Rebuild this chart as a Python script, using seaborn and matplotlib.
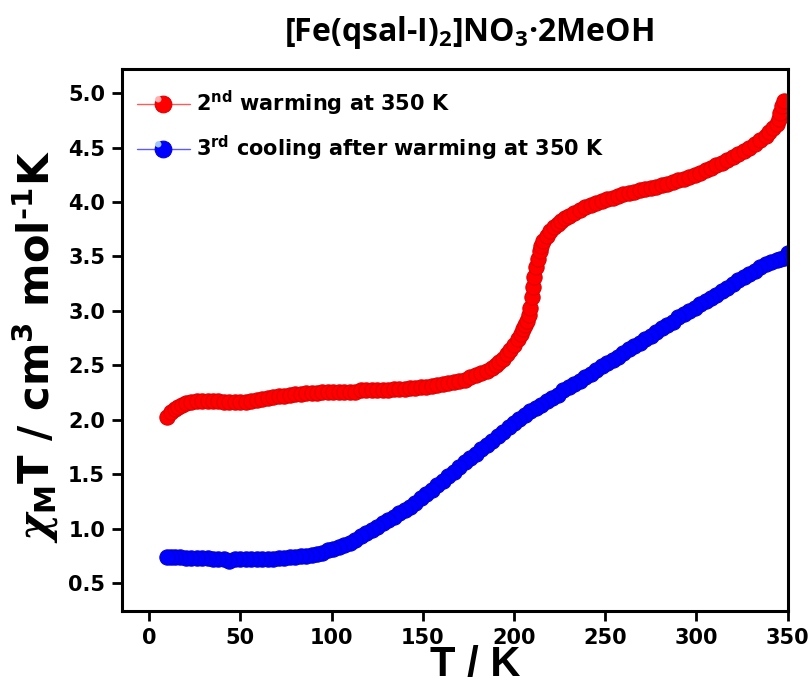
import matplotlib
matplotlib.use("Agg")
import matplotlib.pyplot as plt
from matplotlib.lines import Line2D
from matplotlib.legend_handler import HandlerTuple
from matplotlib.path import Path
import numpy as np
import seaborn as sns
import pandas as pd

# 2nd warming run (K, cm3 mol-1 K)
warm_T = [10, 12, 14, 16, 18, 20, 23, 26, 29, 32, 35, 38, 41, 44, 47, 50, 53, 56, 59, 62,
          65, 68, 71, 74, 77, 80, 83, 86, 89, 92, 95, 98, 101, 104, 107, 110, 113, 116, 119, 122,
          125, 128, 131, 134, 137, 140, 143, 146, 149, 152, 155, 158, 161, 164, 167, 170, 173, 176, 179, 182,
          185, 188, 190, 192, 194, 196, 198, 200, 202, 204, 205, 206, 207, 208, 209, 210, 210.5, 211, 212, 213,
          214, 215, 216, 218, 220, 222, 224, 226, 228, 230, 233, 236, 239, 242, 245, 248, 251, 254, 257, 260,
          263, 266, 269, 272, 275, 278, 281, 284, 287, 290, 293, 296, 299, 302, 305, 308, 311, 314, 317, 320,
          323, 326, 329, 332, 335, 338, 340, 342, 344, 345, 346, 347, 348]
warm_chiT = [2.03, 2.07, 2.10, 2.12, 2.14, 2.15, 2.16, 2.17, 2.17, 2.17, 2.17, 2.17, 2.16, 2.16, 2.16, 2.16, 2.16, 2.17, 2.18, 2.19,
             2.20, 2.21, 2.22, 2.22, 2.23, 2.24, 2.24, 2.25, 2.25, 2.25, 2.26, 2.26, 2.26, 2.26, 2.26, 2.26, 2.26, 2.27, 2.27, 2.27,
             2.27, 2.27, 2.27, 2.28, 2.28, 2.28, 2.29, 2.29, 2.30, 2.30, 2.31, 2.32, 2.33, 2.34, 2.35, 2.36, 2.37, 2.39, 2.41, 2.43,
             2.45, 2.48, 2.50, 2.53, 2.56, 2.60, 2.64, 2.69, 2.74, 2.79, 2.83, 2.87, 2.91, 2.96, 3.03, 3.13, 3.22, 3.31, 3.40, 3.48,
             3.55, 3.60, 3.64, 3.69, 3.73, 3.77, 3.80, 3.83, 3.85, 3.87, 3.90, 3.93, 3.95, 3.97, 3.99, 4.01, 4.03, 4.04, 4.06, 4.07,
             4.08, 4.09, 4.11, 4.12, 4.13, 4.14, 4.16, 4.17, 4.18, 4.20, 4.21, 4.23, 4.25, 4.27, 4.29, 4.31, 4.34, 4.36, 4.39, 4.41,
             4.44, 4.47, 4.50, 4.53, 4.57, 4.61, 4.64, 4.68, 4.72, 4.76, 4.82, 4.88, 4.93]

# 3rd cooling run after warming at 350 K
cool_T = [350, 348, 346, 344, 341, 338, 335, 332, 329, 326, 323, 320, 317, 314, 311, 308, 305, 302, 299, 296,
          293, 290, 287, 284, 281, 278, 275, 272, 269, 266, 263, 260, 257, 254, 251, 248, 245, 242, 239, 236,
          233, 230, 227, 224, 221, 218, 215, 212, 209, 206, 203, 200, 197, 194, 191, 188, 185, 182, 179, 176,
          173, 170, 167, 164, 161, 158, 155, 152, 149, 146, 143, 140, 137, 134, 131, 128, 125, 122, 119, 116,
          113, 110, 107, 104, 101, 98, 95, 92, 89, 86, 83, 80, 77, 74, 71, 68, 65, 62, 59, 56,
          53, 50, 47, 44, 41, 38, 35, 32, 29, 26, 23, 20, 17, 14, 12, 10]
cool_chiT = [3.53, 3.49, 3.48, 3.47, 3.45, 3.43, 3.40, 3.37, 3.34, 3.31, 3.28, 3.25, 3.21, 3.18, 3.15, 3.12, 3.09, 3.06, 3.03, 3.00,
             2.97, 2.94, 2.90, 2.87, 2.84, 2.81, 2.77, 2.74, 2.71, 2.68, 2.65, 2.61, 2.58, 2.55, 2.52, 2.49, 2.46, 2.42, 2.39, 2.36,
             2.33, 2.30, 2.27, 2.23, 2.20, 2.17, 2.14, 2.11, 2.08, 2.04, 2.01, 1.97, 1.93, 1.89, 1.85, 1.81, 1.77, 1.73, 1.69, 1.65,
             1.61, 1.57, 1.52, 1.48, 1.44, 1.40, 1.36, 1.32, 1.28, 1.24, 1.20, 1.17, 1.14, 1.11, 1.08, 1.05, 1.02, 0.99, 0.96, 0.93,
             0.90, 0.87, 0.85, 0.83, 0.81, 0.80, 0.78, 0.77, 0.76, 0.75, 0.75, 0.74, 0.74, 0.73, 0.73, 0.72, 0.72, 0.72, 0.72, 0.72,
             0.72, 0.72, 0.72, 0.70, 0.72, 0.72, 0.72, 0.73, 0.73, 0.73, 0.73, 0.73, 0.74, 0.74, 0.74, 0.74]

x_ticks = [0, 50, 100, 150, 200, 250, 300, 350]
y_ticks = [0.5, 1.0, 1.5, 2.0, 2.5, 3.0, 3.5, 4.0, 4.5, 5.0]

warm_label = r"2$^{\mathsf{nd}}$ warming at 350 K"
cool_label = r"3$^{\mathsf{rd}}$ cooling after warming at 350 K"

sns.set_style("white")
plt.rcParams["font.family"] = ["DejaVu Sans"]
plt.rcParams["font.weight"] = "bold"
plt.rcParams["text.color"] = "black"
plt.rcParams["axes.labelcolor"] = "black"
plt.rcParams["xtick.color"] = "black"
plt.rcParams["ytick.color"] = "black"
plt.rcParams["mathtext.fontset"] = "custom"
plt.rcParams["mathtext.rm"] = "DejaVu Sans:bold"
plt.rcParams["mathtext.bf"] = "DejaVu Sans:bold"
plt.rcParams["mathtext.sf"] = "DejaVu Sans:bold"
plt.rcParams["mathtext.cal"] = "Open Sans:bold"
plt.rcParams["mathtext.it"] = "DejaVu Serif:bold:italic"
plt.rcParams["mathtext.default"] = "bf"

warm = pd.DataFrame({"T": warm_T, "chiT": warm_chiT})
cool = pd.DataFrame({"T": cool_T, "chiT": cool_chiT})

fig = plt.figure(figsize=(8.12, 6.99), dpi=100)
ax = fig.add_axes([0.150, 0.126, 0.820, 0.775])

red, red_edge, red_line = "#ff0000", "#e00000", "#ff5a5a"
blue, blue_edge, blue_line = "#0000ff", "#0000dc", "#5a5aff"
msize = 11

sns.lineplot(data=warm, x="T", y="chiT", ax=ax, sort=False, estimator=None,
             color=red_line, linewidth=1.0, marker="o", markersize=msize,
             markerfacecolor=red, markeredgecolor=red_edge, markeredgewidth=0.8,
             legend=False)
sns.lineplot(data=cool, x="T", y="chiT", ax=ax, sort=False, estimator=None,
             color=blue_line, linewidth=1.0, marker="o", markersize=msize,
             markerfacecolor=blue, markeredgecolor=blue_edge, markeredgewidth=0.8,
             legend=False)

ax.set_xlim(-15, 350)
ax.set_ylim(0.245, 5.22)
ax.set_xticks(x_ticks)
ax.set_yticks(y_ticks)
ax.set_xticklabels([str(v) for v in x_ticks])
ax.set_yticklabels([f"{v:.1f}" for v in y_ticks])

for side in ["left", "right", "top", "bottom"]:
    ax.spines[side].set_visible(True)
    ax.spines[side].set_color("black")
    ax.spines[side].set_linewidth(2.2)

ax.tick_params(axis="both", which="major", direction="out", length=7, width=2,
               color="black", labelcolor="black", labelsize=15, pad=5,
               bottom=True, left=True, top=False, right=False)
for lab in ax.get_xticklabels() + ax.get_yticklabels():
    lab.set_fontweight("bold")

ax.set_xlabel("T / K", fontsize=30, fontweight="bold", labelpad=4, color="black",
              family=["Liberation Sans", "DejaVu Sans"])
ax.xaxis.set_label_coords(0.53, -0.062)
ax.set_ylabel(r"$\mathit{\chi}_{\mathbf{M}}$T / cm$^{\mathbf{3}}$ mol$^{\mathbf{\text{-}1}}$K",
              fontsize=30, fontweight="bold", color="black",
              family=["DejaVu Sans"])
ax.yaxis.set_label_coords(-0.092, 0.487)

fig.text(0.578, 0.953, r"[Fe(qsal-I)$_{\mathcal{2}}$]NO$_{\mathcal{3}}$·2MeOH",
         ha="center", va="center", fontsize=23, fontweight="bold", color="black",
         family=["Open Sans", "DejaVu Sans"])

# glossy legend markers: a sphere with a small off-centre highlight
theta = np.linspace(0, 2 * np.pi, 40)
glint = Path(np.column_stack([-0.33 + 0.2 * np.cos(theta), 0.33 + 0.2 * np.sin(theta)]), closed=True)


def legend_handle(face, edge, line, glint_col):
    body = Line2D([], [], color=line, linewidth=1.0, marker="o", markersize=12,
                  markerfacecolor=face, markeredgecolor=edge, markeredgewidth=0.8)
    shine = Line2D([], [], linestyle="None", marker=glint, markersize=12,
                   markerfacecolor=glint_col, markeredgewidth=0)
    return (body, shine)


handles = [legend_handle(red, red_edge, red_line, "#ffb0b0"),
           legend_handle(blue, blue_edge, blue_line, "#a0c8ff")]
leg = ax.legend(handles, [warm_label, cool_label], loc="upper left", frameon=False,
                bbox_to_anchor=(0.0, 0.9926),
                handler_map={tuple: HandlerTuple(ndivide=1, pad=0)},
                handlelength=2.5, handletextpad=0.3, labelspacing=0.75, borderaxespad=0.35,
                prop={"weight": "bold", "size": 15, "family": "DejaVu Sans"})
for txt in leg.get_texts():
    txt.set_color("black")

fig.savefig("out.png", dpi=100, facecolor="white")
